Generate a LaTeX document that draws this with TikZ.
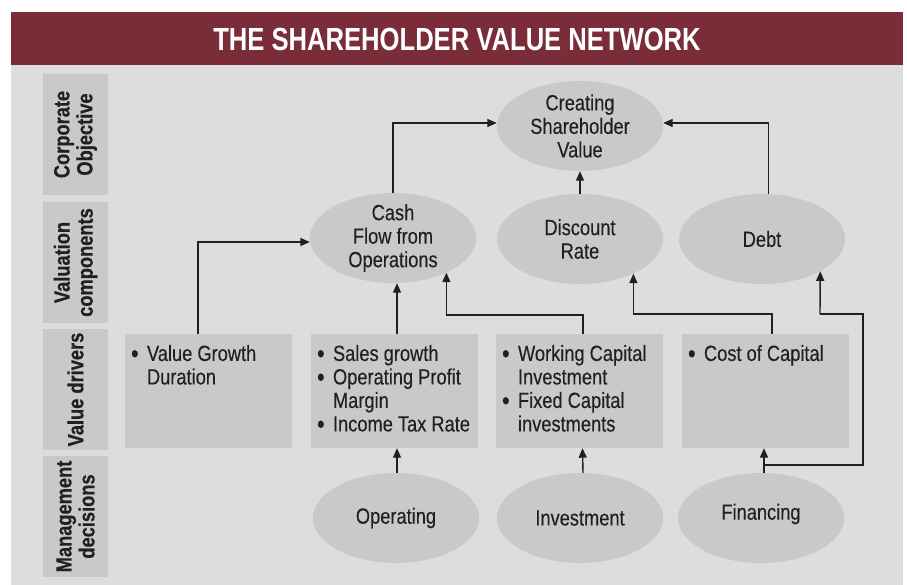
\documentclass[tikz,border=0pt]{standalone}
\usepackage{fontspec}
\setmainfont{Liberation Sans}[FakeStretch=0.83, UprightFeatures={FakeBold=0.25}, BoldFeatures={FakeBold=0.5}]
\newfontfamily\titlefont{Liberation Sans}[FakeStretch=0.8]
\usetikzlibrary{shapes.geometric,arrows.meta,calc}
\definecolor{barred}{HTML}{7B2C39}
\definecolor{panel}{HTML}{DCDDDF}
\definecolor{boxgray}{HTML}{C8C9CB}
\definecolor{ink}{HTML}{231F20}
\newcommand\bullitem[1]{\makebox[16pt][l]{\smash{\raisebox{-1.6pt}{\scalebox{1.2}{\textbullet}}}}#1}
\newcommand\contitem[1]{\hspace*{16pt}#1}
\begin{document}
\begin{tikzpicture}[x=1pt,y=-1pt,
  ellg/.style={ellipse, fill=boxgray, minimum width=166pt, minimum height=90pt, inner sep=0pt},
  boxg/.style={rectangle, fill=boxgray, minimum width=167pt, minimum height=114pt, inner sep=0pt},
  side/.style={rectangle, fill=boxgray, minimum width=65pt, minimum height=121pt, inner sep=0pt},
  sidetext/.style={rotate=90, align=center, inner sep=0pt, text=ink, font=\bfseries\fontsize{22}{23}\selectfont},
  etext/.style={align=center, inner sep=0pt, text=ink, font=\fontsize{22}{23.5}\selectfont},
  btext/.style={anchor=north west, align=left, inner sep=0pt, text=ink, font=\fontsize{22}{23.5}\selectfont},
  ln/.style={draw=ink, line width=1.4pt},
  arr/.style={draw=ink, line width=1.4pt, -{Triangle[length=9.5pt,width=8pt]}}
]
\useasboundingbox (0,0) rectangle (907,585);
\fill[white] (0,0) rectangle (907,585);
% title bar and panel
\fill[panel] (11,65) rectangle (903,585);
\fill[barred] (11,12) rectangle (903,65);
\node[text=white, inner sep=0pt, font=\titlefont\bfseries\fontsize{32}{36}\selectfont] (title) at (457,39) {THE SHAREHOLDER VALUE NETWORK};

% side labels
\node[side] (s1) at (75.5,134.5) {};
\node[side] (s2) at (75.5,262.5) {};
\node[side] (s3) at (75.5,389.5) {};
\node[side] (s4) at (75.5,516.5) {};
\node[sidetext] (s1t) at (s1) {Corporate\\Objective};
\node[sidetext] (s2t) at (s2) {Valuation\\components};
\node[sidetext] (s3t) at (s3) {Value drivers};
\node[sidetext] (s4t) at (s4) {Management\\decisions};

% ellipses
\node[ellg] (csv) at (580,126) {};
\node[ellg] (cf) at (393,238) {};
\node[ellg] (dr) at (580,239) {};
\node[ellg] (debt) at (762,239) {};
\node[ellg] (op) at (396,518) {};
\node[ellg] (inv) at (580,518) {};
\node[ellg] (fin) at (761,518) {};
\node[etext] (csvt) at (csv) {Creating\\Shareholder\\Value};
\node[etext] (cft) at (cf) {Cash\\Flow from\\Operations};
\node[etext] (drt) at (dr) {Discount\\Rate};
\node[etext] (debtt) at (debt) {Debt};
\node[etext] (opt) at (op) {Operating};
\node[etext] (invt) at (inv) {Investment};
\node[etext] (fint) at ([yshift=4pt]fin.center) {Financing};

% value driver boxes
\node[boxg] (b1) at (208.5,391) {};
\node[boxg] (b2) at (394.5,391) {};
\node[boxg] (b3) at (579.5,391) {};
\node[boxg] (b4) at (765.5,391) {};
\node[btext] (b1t) at ($(b1.north west)+(6,11)$) {\bullitem{Value Growth}\\\contitem{Duration}};
\node[btext] (b2t) at ($(b2.north west)+(6,11)$) {\bullitem{Sales growth}\\\bullitem{Operating Profit}\\\contitem{Margin}\\\bullitem{Income Tax Rate}};
\node[btext] (b3t) at ($(b3.north west)+(6,11)$) {\bullitem{Working Capital}\\\contitem{Investment}\\\bullitem{Fixed Capital}\\\contitem{investments}};
\node[btext] (b4t) at ($(b4.north west)+(6,11)$) {\bullitem{Cost of Capital}};

% junction coordinates
\coordinate (j1) at (198,242);
\coordinate (j3) at (583,315);
\coordinate (j4) at (772,314);
\coordinate (jf) at (764,465);
\coordinate (jr) at (863,465);
\coordinate (jt) at (863,314);
\coordinate (jd) at (820,314);

% connectors to the corporate objective
\draw[arr] (cf.north) |- ([yshift=3pt]csv.west);
\draw[arr] ([xshift=6.5pt]debt.north) |- ([yshift=3pt]csv.east);
\draw[arr] (dr.north) -- (csv.south);

% value drivers to components
\draw[arr] (b1.north -| j1) |- ([yshift=-4pt]cf.west);
\draw[arr] ([xshift=2.5pt]b2.north) -- ([xshift=4pt]cf.south);
\draw[arr] (b3.north -| j3) -- (j3) -| (cf.-33);
\draw[arr] (b4.north -| j4) -- (j4) -| (dr.-33);

% management decisions to value drivers
\draw[arr] (op.north -| b2.north) ++(2.5,0) -- ([xshift=2.5pt]b2.south);
\draw[arr] ([xshift=3pt]inv.north) -- ([xshift=3pt]b3.south);
\draw[arr] (fin.north -| jf) -- (b4.south -| jf);
\draw[ln] (jf) -- (jr) -- (jt) -- (jd);
\draw[arr] (jd) -- (debt.-29);
\end{tikzpicture}
\end{document}
